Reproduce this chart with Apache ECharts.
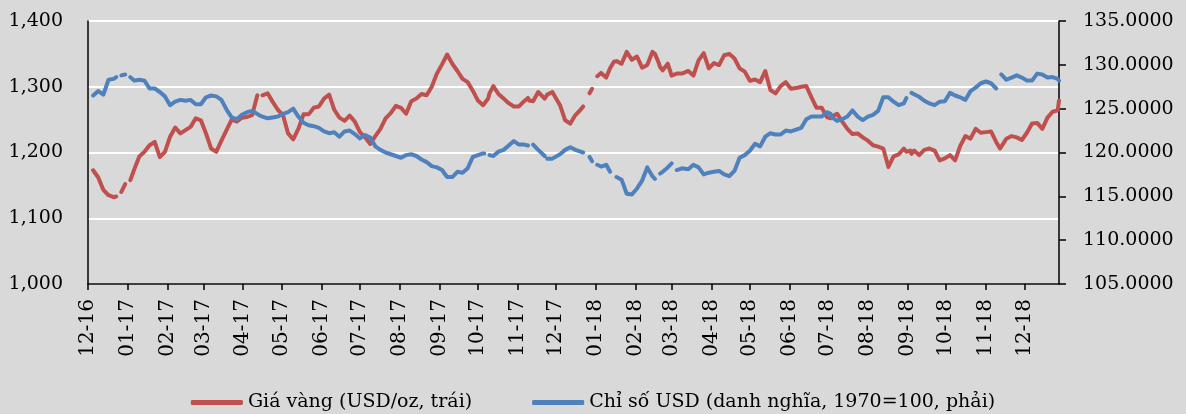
<!DOCTYPE html>
<html>
<head>
<meta charset="utf-8">
<title>Giá vàng và chỉ số USD</title>
<script src="https://cdn.jsdelivr.net/npm/echarts@6/dist/echarts.min.js"></script>
<style>
html,body{margin:0;padding:0;background:#d9d9d9;}
#main{width:1186px;height:414px;}
</style>
</head>
<body>
<div id="main"></div>
<script>
// ngày quan sát (null = ngày nghỉ, đường bị ngắt)
var dates = [
	'2016-12-05','2016-12-09','2016-12-13','2016-12-17','2016-12-21','2016-12-23','2016-12-26','2016-12-27','2016-12-30',
	'2017-01-02','2017-01-03','2017-01-06','2017-01-10','2017-01-14','2017-01-18','2017-01-22','2017-01-26','2017-01-30',
	'2017-02-03','2017-02-07','2017-02-11','2017-02-15','2017-02-19','2017-02-23','2017-02-27',
	'2017-03-03','2017-03-07','2017-03-11','2017-03-15','2017-03-19','2017-03-23','2017-03-27','2017-03-31',
	'2017-04-04','2017-04-08','2017-04-12','2017-04-14','2017-04-16','2017-04-20','2017-04-24','2017-04-28',
	'2017-05-02','2017-05-06','2017-05-10','2017-05-14','2017-05-18','2017-05-22','2017-05-26','2017-05-30',
	'2017-06-03','2017-06-07','2017-06-11','2017-06-15','2017-06-19','2017-06-23','2017-06-27',
	'2017-07-01','2017-07-05','2017-07-09','2017-07-13','2017-07-17','2017-07-21','2017-07-25','2017-07-29',
	'2017-08-02','2017-08-06','2017-08-10','2017-08-14','2017-08-18','2017-08-22','2017-08-26','2017-08-30',
	'2017-09-03','2017-09-07','2017-09-11','2017-09-15','2017-09-19','2017-09-23','2017-09-27',
	'2017-10-01','2017-10-05','2017-10-06','2017-10-09','2017-10-10','2017-10-13','2017-10-17','2017-10-21','2017-10-25','2017-10-29',
	'2017-11-02','2017-11-06','2017-11-09','2017-11-10','2017-11-13','2017-11-17','2017-11-22','2017-11-23','2017-11-24','2017-11-28',
	'2017-12-04','2017-12-08','2017-12-12','2017-12-16','2017-12-20','2017-12-22','2017-12-25','2017-12-27','2017-12-29',
	'2018-01-01','2018-01-02','2018-01-05','2018-01-09','2018-01-12','2018-01-15','2018-01-17','2018-01-21','2018-01-25','2018-01-29',
	'2018-02-02','2018-02-06','2018-02-10','2018-02-14','2018-02-16','2018-02-19','2018-02-20','2018-02-22','2018-02-26',
	'2018-03-01','2018-03-02','2018-03-05','2018-03-09','2018-03-14','2018-03-18','2018-03-22','2018-03-26','2018-03-30',
	'2018-04-03','2018-04-07','2018-04-11','2018-04-15','2018-04-19','2018-04-23','2018-04-27',
	'2018-05-01','2018-05-05','2018-05-09','2018-05-13','2018-05-17','2018-05-21','2018-05-25','2018-05-29',
	'2018-06-02','2018-06-06','2018-06-10','2018-06-14','2018-06-18','2018-06-22','2018-06-26','2018-06-30',
	'2018-07-03','2018-07-04','2018-07-05','2018-07-08','2018-07-12','2018-07-16','2018-07-20','2018-07-24','2018-07-28',
	'2018-08-01','2018-08-05','2018-08-09','2018-08-13','2018-08-17','2018-08-21','2018-08-25','2018-08-29','2018-08-31',
	'2018-09-03','2018-09-04','2018-09-06','2018-09-10','2018-09-14','2018-09-18','2018-09-22','2018-09-26','2018-09-30',
	'2018-10-04','2018-10-08','2018-10-12','2018-10-16','2018-10-20','2018-10-24','2018-10-28',
	'2018-11-01','2018-11-05','2018-11-09','2018-11-12','2018-11-13','2018-11-17','2018-11-21','2018-11-25','2018-11-29',
	'2018-12-03','2018-12-07','2018-12-11','2018-12-15','2018-12-19','2018-12-23','2018-12-27','2018-12-28'
];
// Giá vàng (USD/oz) - trục trái
var goldPrice = [
	1173,1162,1143,1135,1132,1133,null,1140,1152,
	null,1158,1174,1194,1201,1211,1216,1193,1201,
	1224,1238,1229,1234,1239,1252,1249,
	1229,1206,1201,1218,1234,1250,1247,1253,
	1254,1257,1287,null,1287,1290,1277,1265,
	1257,1229,1220,1236,1258,1258,1268,1270,
	1282,1288,1265,1253,1248,1256,1247,
	1231,1223,1213,1225,1236,1252,1260,1271,
	1268,1259,1278,1282,1289,1287,1300,1320,
	1334,1349,1335,1324,1312,1307,1294,
	1279,1272,1273,1282,1290,1301,1289,1282,1275,1270,
	1270,1278,1283,1279,1278,1292,1282,1281,1288,1292,
	1272,1249,1244,1257,1265,1270,null,1290,1297,
	null,1316,1321,1314,1328,1338,1339,1335,1353,1341,
	1346,1329,1333,1353,1350,1336,1330,1325,1335,
	1317,1319,1320,1320,1324,1317,1340,1351,1328,
	1336,1333,1348,1350,1343,1328,1323,
	1309,1311,1307,1324,1295,1290,1301,1307,
	1297,1298,1300,1301,1284,1268,1268,1254,
	1252,null,1256,1259,1247,1236,1228,1229,1223,
	1218,1211,1209,1206,1178,1194,1197,1206,1201,
	1203,1198,1203,1196,1204,1206,1203,1188,1191,
	1196,1188,1210,1225,1221,1236,1230,
	1231,1232,1216,1206,1203,1221,1225,1223,1219,
	1230,1244,1245,1236,1253,1262,1264,1279
];
// Chỉ số USD (danh nghĩa, 1970=100) - trục phải
var usdIndex = [
	126.5,127.0,126.6,128.3,128.4,128.6,null,128.8,128.9,
	null,128.6,128.2,128.3,128.2,127.3,127.3,126.9,126.4,
	125.4,125.8,126.0,125.9,126.0,125.5,125.5,
	126.3,126.5,126.4,126.0,124.9,124.0,123.8,124.3,
	124.6,124.75,124.4,124.2,124.1,123.9,124.0,124.1,
	124.4,124.6,125.0,124.1,123.4,123.1,123.0,122.8,
	122.4,122.2,122.3,121.8,122.4,122.5,122.1,
	121.6,122.0,121.7,120.7,120.3,120.0,119.8,119.6,
	119.4,119.7,119.8,119.6,119.2,118.9,118.45,118.3,
	118.0,117.2,117.2,117.8,117.7,118.2,119.5,
	119.7,119.9,119.9,null,119.7,119.6,120.1,120.3,120.8,121.3,
	120.9,120.9,120.8,null,120.9,120.3,119.6,null,119.3,119.3,
	119.8,120.3,120.6,120.3,120.1,120.0,null,119.5,119.0,
	null,118.6,118.4,118.6,117.8,null,117.2,116.9,115.3,115.2,
	115.9,116.8,118.3,117.3,117.0,null,117.6,117.8,118.3,
	118.75,null,118.0,118.2,118.1,118.6,118.3,117.5,117.7,
	117.8,117.9,117.5,117.3,117.9,119.4,119.7,
	120.2,121.0,120.7,121.8,122.2,122.05,122.05,122.5,
	122.4,122.6,122.8,123.8,124.1,124.1,124.1,124.6,
	124.4,124.0,124.1,123.6,123.8,124.1,124.8,124.1,123.7,
	124.1,124.3,124.75,126.3,126.3,125.8,125.4,125.6,126.2,
	null,126.8,126.65,126.35,125.9,125.6,125.4,125.8,125.85,
	126.8,126.5,126.3,126.0,127.0,127.4,127.9,
	128.1,127.9,127.3,null,128.9,128.3,128.55,128.8,128.55,
	128.2,128.2,129.0,128.9,128.55,128.6,128.4,128.2
];
var goldName = 'Giá vàng (USD/oz, trái)';
var usdName = 'Chỉ số USD (danh nghĩa, 1970=100, phải)';

var FONT = 'DejaVu Serif';
var DAY = 24 * 3600 * 1000;

function pairs(vals) {
	return dates.map(function (d, i) { return [d, vals[i]]; });
}
function pad(n) { return n < 10 ? '0' + n : '' + n; }

var myChart = echarts.init(document.getElementById('main'));
var option = {
	animation: false,
	backgroundColor: '#d9d9d9',
	grid: { left: 88, right: 127, top: 21, bottom: 130, outerBoundsMode: 'none' },
	legend: {
		top: 388,
		left: 'center',
		icon: 'roundRect',
		itemWidth: 52,
		itemHeight: 5,
		itemGap: 60,
		textStyle: { fontFamily: FONT, fontSize: 19, color: '#000' },
		data: [goldName, usdName]
	},
	xAxis: {
		type: 'time',
		min: new Date(2016, 11, 1).getTime(),
		max: new Date(2018, 11, 28).getTime(),
		splitNumber: 25,
		minInterval: 28 * DAY,
		maxInterval: 31 * DAY,
		axisLine: { lineStyle: { color: '#000', width: 1.5 } },
		axisTick: { show: true, length: 6, lineStyle: { color: '#000', width: 1.5 } },
		axisLabel: {
			rotate: 90,
			margin: 15,
			showMaxLabel: false,
			hideOverlap: false,
			fontFamily: FONT,
			fontSize: 20,
			color: '#000',
			formatter: function (v) {
				var d = new Date(v);
				return pad(d.getMonth() + 1) + '-' + String(d.getFullYear()).slice(2);
			}
		},
		splitLine: { show: false }
	},
	yAxis: [
		{
			type: 'value',
			min: 1000, max: 1400, interval: 100,
			axisLine: { show: true, lineStyle: { color: '#000', width: 1.5 } },
			axisTick: { show: false },
			axisLabel: {
				margin: 25, fontFamily: FONT, fontSize: 19, color: '#000',
				formatter: function (v) { return v.toLocaleString('en-US'); }
			},
			splitLine: { show: true, lineStyle: { color: '#ffffff', width: 2 } }
		},
		{
			type: 'value',
			position: 'right',
			min: 105, max: 135, interval: 5,
			axisLine: { show: true, lineStyle: { color: '#000', width: 1.5 } },
			axisTick: { show: true, length: 7, lineStyle: { color: '#000', width: 1.5 } },
			axisLabel: {
				margin: 24, fontFamily: FONT, fontSize: 19, color: '#000',
				formatter: function (v) { return v.toFixed(4); }
			},
			splitLine: { show: false }
		}
	],
	series: [
		{
			name: goldName,
			type: 'line',
			yAxisIndex: 0,
			symbol: 'none',
			connectNulls: false,
			itemStyle: { color: '#c0504d' },
			lineStyle: { color: '#c0504d', width: 4, cap: 'round', join: 'round' },
			data: pairs(goldPrice)
		},
		{
			name: usdName,
			type: 'line',
			yAxisIndex: 1,
			symbol: 'none',
			connectNulls: false,
			itemStyle: { color: '#4f81bd' },
			lineStyle: { color: '#4f81bd', width: 4, cap: 'round', join: 'round' },
			data: pairs(usdIndex)
		}
	]
};
myChart.setOption(option);
</script>
</body>
</html>
